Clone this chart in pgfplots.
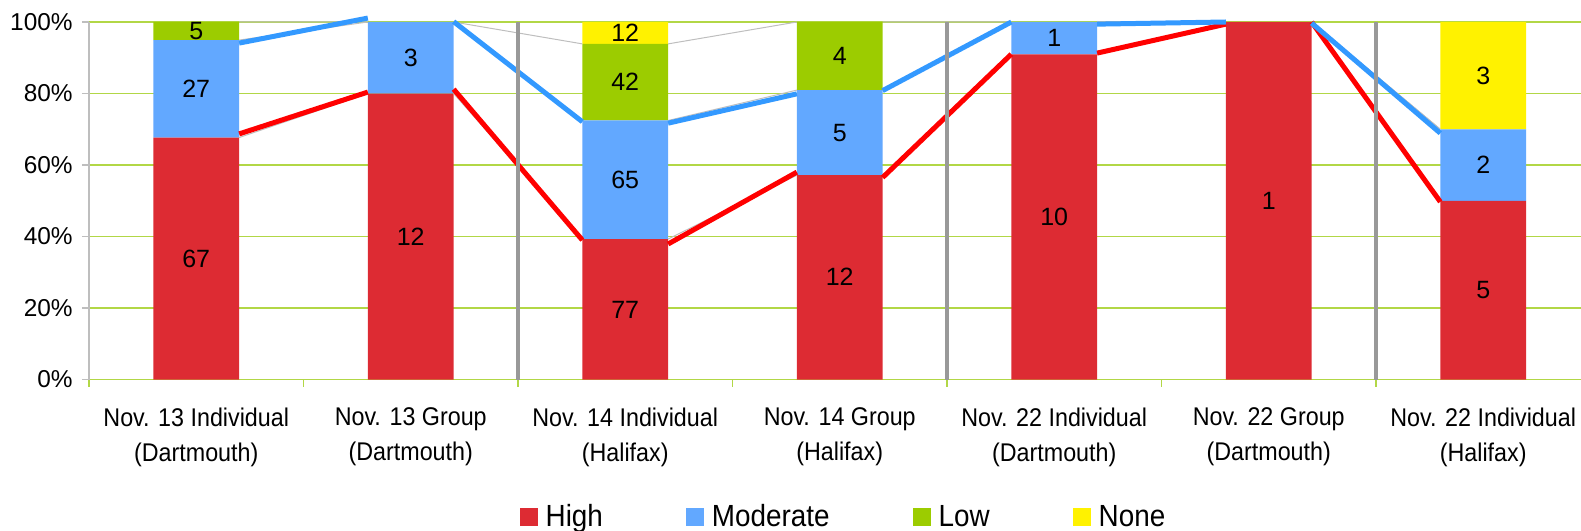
\documentclass[border=0pt]{standalone}
\usepackage{pgfplots}
\pgfplotsset{compat=1.18}
\usepackage{fontspec}
\setmainfont{Liberation Sans}
\newfontfamily\narrowfont[FakeStretch=0.91]{Liberation Sans}
\usetikzlibrary{calc}

\definecolor{cHigh}{RGB}{221,43,51}
\definecolor{cMod}{RGB}{98,168,255}
\definecolor{cLow}{RGB}{156,204,0}
\definecolor{cNone}{RGB}{255,242,0}
\definecolor{cRed}{RGB}{255,0,0}
\definecolor{cBlue}{RGB}{51,153,255}
\definecolor{cGrid}{RGB}{178,215,70}
\definecolor{cSep}{RGB}{153,153,153}
\definecolor{cSer}{RGB}{190,190,190}

\pgfplotsset{
  base/.style={scale only axis, width=746pt, height=178.75pt,
    xmin=-0.5, xmax=6.456, ymin=0, ymax=100, enlargelimits=false},
}

\begin{document}
\begin{tikzpicture}
\begin{axis}[base, name=ax, ybar stacked, bar width=0.4,
  axis x line*=bottom, axis y line*=left, axis line style={-},
  x axis line style={draw=cGrid, line width=0.8pt},
  y axis line style={draw=cSer, line width=0.8pt},
  ymajorgrids, grid style={draw=cGrid, line width=0.8pt},
  ytick={0,20,...,100},
  yticklabel={\pgfmathprintnumber{\tick}\%},
  /pgf/number format/assume math mode=true,
  yticklabel style={font=\fontsize{12.2}{14}\selectfont, anchor=east, inner sep=0pt, xshift=-4.5pt},
  xtick={0,...,6},
  xticklabels={{Nov. 13 Individual\\(Dartmouth)},{Nov. 13 Group\\(Dartmouth)},{Nov. 14 Individual\\(Halifax)},{Nov. 14 Group\\(Halifax)},{Nov. 22 Individual\\(Dartmouth)},{Nov. 22 Group\\(Dartmouth)},{Nov. 22 Individual\\(Halifax)}},
  xticklabel style={font=\narrowfont\fontsize{12.8}{17.5}\selectfont, align=center, anchor=north, inner sep=0pt, yshift=-10.5pt},
  minor xtick={-0.5,0.5,...,5.5},
  tick align=outside,
  major tick length=3.5pt, minor tick length=3.5pt,
  every major x tick/.append style={draw=none},
  every minor x tick/.append style={draw=cGrid, line width=0.8pt},
  every major y tick/.append style={draw=cSer, line width=0.8pt},
  legend columns=4,
  legend image code/.code={\fill[#1] (0pt,-4.5pt) rectangle (9pt,4.5pt);},
  legend style={at={(axis description cs:0.505,-0.3846)}, anchor=center, draw=none,
    font=\narrowfont\fontsize{15.3}{17}\selectfont, inner sep=0pt,
    nodes={inner sep=0pt},
    /tikz/every even column/.append style={column sep=41.5pt},
    /tikz/every odd column/.append style={column sep=4pt}},
]
\addplot[fill=cHigh, draw=none] coordinates {(0,67.68) (1,80) (2,39.29) (3,57.14) (4,90.91) (5,100) (6,50)};
\addplot[fill=cMod, draw=none] coordinates {(0,27.27) (1,20) (2,33.16) (3,23.81) (4,9.09) (5,0) (6,20)};
\addplot[fill=cLow, draw=none] coordinates {(0,5.05) (1,0) (2,21.43) (3,19.05) (4,0) (5,0) (6,0)};
\addplot[fill=cNone, draw=none] coordinates {(0,0) (1,0) (2,6.12) (3,0) (4,0) (5,0) (6,30)};
\legend{High, Moderate, Low, None}
\end{axis}
\begin{axis}[base, hide axis, clip=false, unbounded coords=jump]
% series lines between bars
\addplot[cSer, line width=0.5pt] coordinates {(0.2,67.68) (0.8,80) (1,nan) (1.2,80) (1.8,39.29) (2,nan) (2.2,39.29) (2.8,57.14) (3,nan) (3.2,57.14) (3.8,90.91) (4,nan) (4.2,90.91) (4.8,100) (5,nan) (5.2,100) (5.8,50)};
\addplot[cSer, line width=0.5pt] coordinates {(0.2,94.95) (0.8,100) (1,nan) (1.2,100) (1.8,72.45) (2,nan) (2.2,72.45) (2.8,80.95) (3,nan) (3.2,80.95) (3.8,100) (4,nan) (4.2,100) (4.8,100) (5,nan) (5.2,100) (5.8,70)};
\addplot[cSer, line width=0.5pt] coordinates {(0.2,100) (0.8,100) (1,nan) (1.2,100) (1.8,93.88) (2,nan) (2.2,93.88) (2.8,100) (3,nan) (3.2,100) (3.8,100) (4,nan) (4.2,100) (4.8,100) (5,nan) (5.2,100) (5.8,70)};
% red and blue connecting lines
\addplot[cRed, line width=2.5pt] coordinates {(0.2,68.7) (0.8,80.4) (1,nan) (1.2,81.2) (1.8,39.0) (2,nan) (2.2,37.9) (2.8,58.0) (3,nan) (3.2,56.5) (3.8,91.0) (4,nan) (4.2,91.3) (4.8,99.4) (5,nan) (5.2,100) (5.8,49.7)};
\addplot[cBlue, line width=2.5pt] coordinates {(0.2,94.1) (0.8,101.1) (1,nan) (1.2,100.1) (1.8,72.1) (2,nan) (2.2,71.7) (2.8,79.9) (3,nan) (3.2,80.8) (3.8,100) (4,nan) (4.2,99.4) (4.8,100) (5,nan) (5.2,99.7) (5.8,68.9)};
% separators
\addplot[cSep, line width=2pt] coordinates {(1.5,0) (1.5,100) (2,nan) (3.5,0) (3.5,100) (4,nan) (5.5,0) (5.5,100)};
% data labels
\addplot[draw=none, mark=none, nodes near coords, point meta=explicit symbolic,
  nodes near coords style={anchor=center, inner sep=0pt, font=\fontsize{12.5}{15}\selectfont}]
  coordinates {(0,33.84)[67] (0,81.3)[27] (0,97.5)[5]
    (1,40)[12] (1,90)[3]
    (2,19.6)[77] (2,55.9)[65] (2,83.2)[42] (2,96.9)[12]
    (3,28.6)[12] (3,69)[5] (3,90.5)[4]
    (4,45.5)[10] (4,95.5)[1]
    (5,50)[1]
    (6,25)[5] (6,60)[2] (6,85)[3]};
\end{axis}
\pgfresetboundingbox
\path[use as bounding box] ($(ax.south west)+(-44.5pt,-75.25pt)$) rectangle ($(ax.north east)+(0pt,11pt)$);
\end{tikzpicture}
\end{document}
